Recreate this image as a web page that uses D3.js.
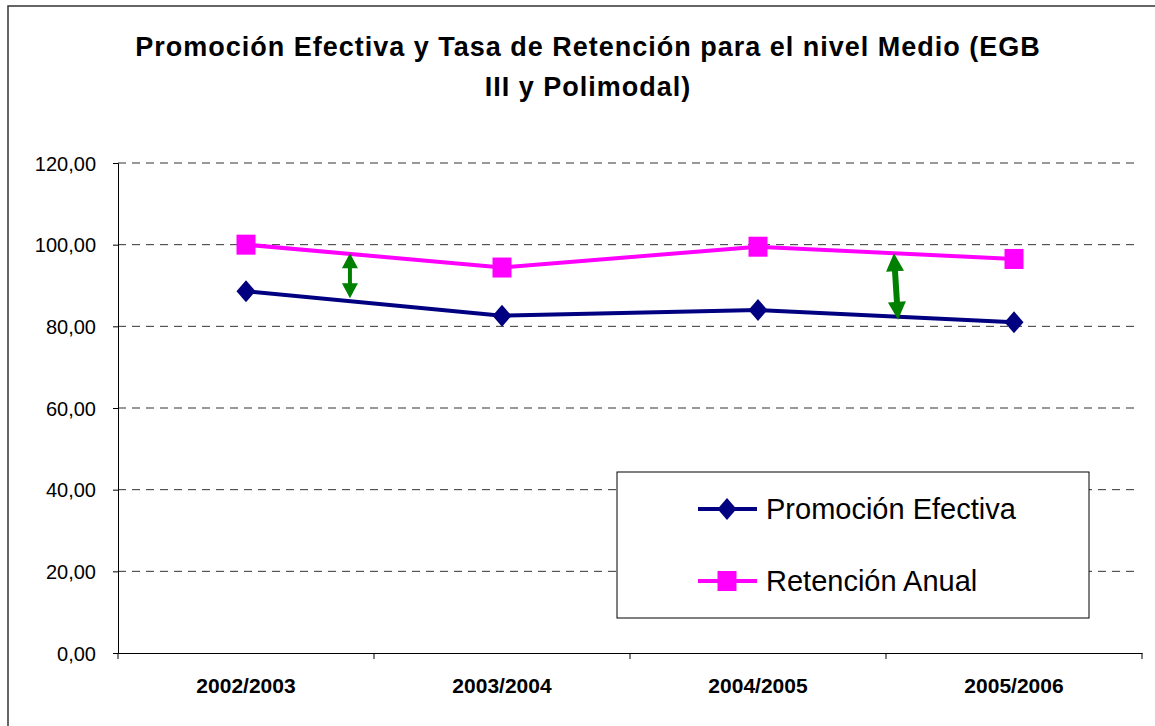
<!DOCTYPE html>
<html><head><meta charset="utf-8">
<script src="https://cdn.jsdelivr.net/npm/d3@7"></script>
<style>body{margin:0;background:#fff}svg{display:block;font-family:"Liberation Sans",Arial,sans-serif}</style>
</head><body><svg id="c" width="1155" height="726"></svg>
<script>
const categories = ["2002/2003","2003/2004","2004/2005","2005/2006"];
const promocion = [88.6, 82.6, 84.0, 81.0];
const retencion = [100.0, 94.4, 99.5, 96.5];
const yTicks = [0,20,40,60,80,100,120];
const seriesNames = ["Promoción Efectiva","Retención Anual"];
const titleLines = ["Promoción Efectiva y Tasa de Retención para el nivel Medio (EGB","III y Polimodal)"];
// annotation arrows: [category index (fractional), value] pairs
const arrows = [
  {x1:0.406, y1:97.9, x2:0.406, y2:86.9, w:4, head:16, len:15},
  {x1:2.531, y1:97.9, x2:2.547, y2:81.6, w:6, head:18, len:18}
];

const svg = d3.select("#c");
const L=118, R=1142, T=163, B=653;
const x = d3.scaleBand().domain(categories).range([L,R]);
const xi = d3.scaleLinear().domain([-0.5, categories.length-0.5]).range([L,R]);
const y = d3.scaleLinear().domain([0,120]).range([B,T]);

// outer frame
svg.append("rect").attr("x",8).attr("y",6).attr("width",1200).attr("height",800)
  .attr("fill","none").attr("stroke","#333").attr("stroke-width",1.5);

// title
svg.append("g").selectAll("text").data(titleLines).join("text")
  .attr("x",588).attr("y",(d,i)=>56+i*40).attr("text-anchor","middle")
  .attr("font-weight","bold").attr("font-size",27).attr("letter-spacing",1).attr("fill","#000").text(d=>d);

// gridlines
svg.append("g").selectAll("line").data(yTicks.filter(d=>d>0)).join("line")
  .attr("x1",L).attr("x2",1138).attr("y1",d=>y(d)).attr("y2",d=>y(d))
  .attr("stroke","#333").attr("stroke-dasharray","8,6").attr("stroke-width",1);

// y axis
const ya = svg.append("g").attr("transform",`translate(${L},0)`)
  .call(d3.axisLeft(y).tickValues(yTicks).tickSize(5).tickPadding(17)
    .tickFormat(d=>d3.format(".2f")(d).replace(".",",")));
ya.select(".domain").attr("stroke","#000");
ya.selectAll(".tick line").attr("stroke","#000");
ya.selectAll("text").attr("font-size",20).attr("fill","#000").attr("font-family","Liberation Sans, Arial, sans-serif").attr("dy","0.35em");

// x axis
const xa = svg.append("g").attr("transform",`translate(0,${B})`)
  .call(d3.axisBottom(x).tickSize(0).tickPadding(0));
xa.select(".domain").attr("stroke","#000");
xa.selectAll(".tick text").attr("y",40).attr("dy",0).attr("font-size",21).attr("font-weight","bold")
  .attr("fill","#000").attr("font-family","Liberation Sans, Arial, sans-serif");
svg.append("g").selectAll("line").data(d3.range(categories.length+1)).join("line")
  .attr("x1",d=>xi(d-0.5)).attr("x2",d=>xi(d-0.5)).attr("y1",B).attr("y2",B+6).attr("stroke","#000");

const cx = d=>x(d)+x.bandwidth()/2;
const line = d3.line();
const diamond = (px,py,w,h)=>`M${px},${py-h/2}L${px+w/2},${py}L${px},${py+h/2}L${px-w/2},${py}Z`;

// series lines
svg.append("path").attr("d",line(categories.map((c,i)=>[cx(c),y(promocion[i])])))
  .attr("fill","none").attr("stroke","#000080").attr("stroke-width",4).attr("stroke-linejoin","round");
svg.append("path").attr("d",line(categories.map((c,i)=>[cx(c),y(retencion[i])])))
  .attr("fill","none").attr("stroke","#FF00FF").attr("stroke-width",4).attr("stroke-linejoin","round");

svg.append("g").selectAll("path").data(promocion).join("path")
  .attr("d",(d,i)=>diamond(cx(categories[i]),y(d),19,22)).attr("fill","#000080");
svg.append("g").selectAll("rect").data(retencion).join("rect")
  .attr("x",(d,i)=>cx(categories[i])-9.5).attr("y",d=>y(d)-10).attr("width",19).attr("height",20).attr("fill","#FF00FF");

// arrows
arrows.forEach(a=>{
  const x1=xi(a.x1), y1=y(a.y1), x2=xi(a.x2), y2=y(a.y2);
  const dx=x2-x1, dy=y2-y1, len=Math.hypot(dx,dy), ux=dx/len, uy=dy/len, px=-uy, py=ux;
  const g=svg.append("g").attr("fill","#008000");
  g.append("line").attr("x1",x1+ux*a.len*0.8).attr("y1",y1+uy*a.len*0.8)
    .attr("x2",x2-ux*a.len*0.8).attr("y2",y2-uy*a.len*0.8)
    .attr("stroke","#008000").attr("stroke-width",a.w);
  const head=(tx,ty,sx,sy)=>`M${tx},${ty}L${tx+sx*a.len+px*a.head/2},${ty+sy*a.len+py*a.head/2}L${tx+sx*a.len-px*a.head/2},${ty+sy*a.len-py*a.head/2}Z`;
  g.append("path").attr("d",head(x1,y1,ux,uy));
  g.append("path").attr("d",head(x2,y2,-ux,-uy));
});

// legend
const lg = svg.append("g");
lg.append("rect").attr("x",617).attr("y",472).attr("width",472).attr("height",146)
  .attr("fill","#fff").attr("stroke","#000").attr("stroke-width",1);
const legY=[509,581];
lg.selectAll("line.s").data(seriesNames).join("line")
  .attr("x1",698).attr("x2",757).attr("y1",(d,i)=>legY[i]).attr("y2",(d,i)=>legY[i])
  .attr("stroke",(d,i)=>i?"#FF00FF":"#000080").attr("stroke-width",4);
lg.append("path").attr("d",diamond(727,legY[0],19,22)).attr("fill","#000080");
lg.append("rect").attr("x",717.5).attr("y",legY[1]-10).attr("width",19).attr("height",20).attr("fill","#FF00FF");
lg.selectAll("text").data(seriesNames).join("text")
  .attr("x",766).attr("y",(d,i)=>legY[i]+10).attr("font-size",29).attr("fill","#000").text(d=>d);
</script></body></html>
